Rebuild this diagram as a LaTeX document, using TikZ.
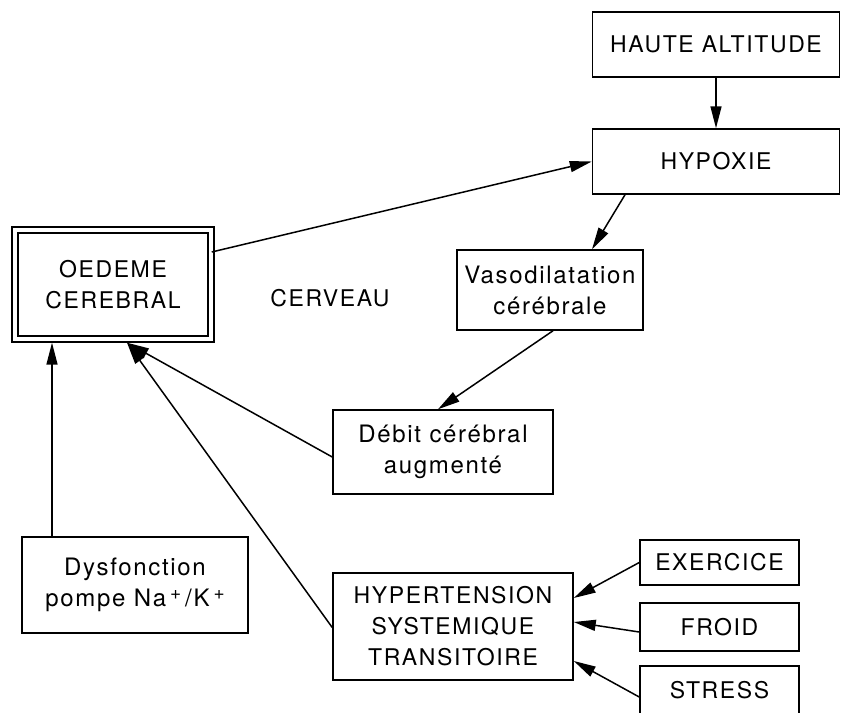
\documentclass[tikz,border=0pt]{standalone}
\usepackage{fontspec}
\setmainfont[LetterSpace=7]{TeX Gyre Heros}
\usetikzlibrary{arrows.meta}
\newcommand{\plussup}{\raisebox{0.3em}{\fontsize{19}{19}\selectfont +}}
\begin{document}
\begin{tikzpicture}[x=1pt,y=-1pt,
  box/.style={draw,line width=1.5pt,inner sep=0pt,align=center,
    font=\fontsize{23}{31}\selectfont},
  lbox/.style={box,font=\fontsize{24}{31}\selectfont},
  arr/.style={line width=1.5pt,-{Triangle[length=22pt,width=11pt]}}]
\useasboundingbox (0,0) rectangle (842,712);
\node[box,minimum width=247pt,minimum height=65pt] (haute) at (716,44.5) {HAUTE ALTITUDE};
\node[box,minimum width=247pt,minimum height=65pt] (hypoxie) at (716,161.5) {HYPOXIE};
\node[box,draw,double,double distance=4.5pt,line width=1.4pt,minimum width=196pt,minimum height=109pt] (oedeme) at (113,284.5) {OEDEME\\CEREBRAL};
\node[font=\fontsize{23}{31}\selectfont] (cerveau) at (330,298) {CERVEAU};
\node[lbox,minimum width=186pt,minimum height=80pt] (vaso) at (550,290) {Vasodilatation\\cérébrale};
\node[lbox,minimum width=220pt,minimum height=84pt] (debit) at (443,452) {Débit cérébral\\augmenté};
\node[lbox,minimum width=226pt,minimum height=96pt] (dysf) at (135,585) {Dysfonction\\pompe Na\,\plussup\,/K\,\plussup};
\node[box,minimum width=240pt,minimum height=107pt] (hyper) at (453,626.5) {HYPERTENSION\\SYSTEMIQUE\\TRANSITOIRE};
\node[box,minimum width=159pt,minimum height=45pt] (exer) at (719.5,562.5) {EXERCICE};
\node[box,minimum width=159pt,minimum height=48pt] (froid) at (719.5,627) {FROID};
\node[box,minimum width=159pt,minimum height=48pt] (stress) at (719.5,690) {STRESS};

\draw[arr] (haute) -- (hypoxie);
\draw[arr] ([yshift=32.5pt]oedeme.east) -- (hypoxie.west);
\draw[arr] ([xshift=-91pt]hypoxie.south) -- ([xshift=42pt]vaso.north);
\draw[arr] ([xshift=3pt]vaso.south) -- ([xshift=-5pt]debit.north);
\draw[arr] ([yshift=-5pt]debit.west) -- ([xshift=14pt,yshift=-3pt]oedeme.south);
\draw[arr] ([yshift=-1pt]hyper.west) -- ([xshift=14pt,yshift=-3pt]oedeme.south);
\draw[arr] ([xshift=-83pt]dysf.north) -- ([xshift=-61pt,yshift=-3pt]oedeme.south);
\draw[arr] (exer.west) -- ([yshift=28.5pt]hyper.east);
\draw[arr] ([yshift=-5pt]froid.west) -- ([yshift=4.5pt]hyper.east);
\draw[arr] ([yshift=-7pt]stress.west) -- ([yshift=-34.5pt]hyper.east);
\end{tikzpicture}
\end{document}
